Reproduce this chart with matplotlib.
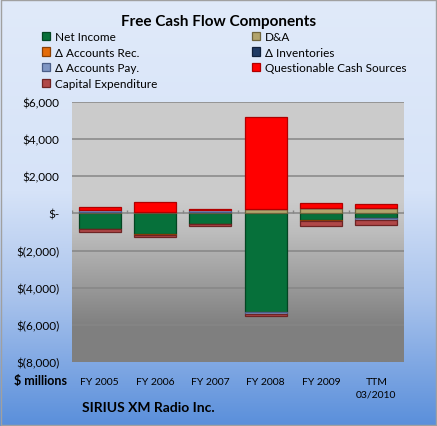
import matplotlib
matplotlib.use('Agg')
import matplotlib.pyplot as plt
import numpy as np
from matplotlib.colors import LinearSegmentedColormap

plt.rcParams['font.family'] = ['Lato', 'DejaVu Sans']

############################### DATA ###############################
years = ['FY 2005', 'FY 2006', 'FY 2007', 'FY 2008', 'FY 2009', 'TTM\n03/2010']
net_income = [-840, -1130, -565, -5310, -340, -235]
d_and_a = [100, 50, 100, 230, 310, 270]
accounts_rec = [-20, -10, -15, -20, -70, -30]
inventories = [0, 0, 0, 0, 0, 0]
accounts_pay = [110, 20, 70, -60, 0, -90]
questionable = [120, 550, 90, 4940, 230, 230]
capex = [-130, -140, -90, -130, -250, -270]

series = [
    ('Net Income', net_income, '#06703A', '#034522'),
    ('D&A', d_and_a, '#B2A46C', '#6E643C'),
    ('\u0394 Accounts Rec.', accounts_rec, '#E46C0A', '#8A4006'),
    ('\u0394 Inventories', inventories, '#1F3A64', '#10203A'),
    ('\u0394 Accounts Pay.', accounts_pay, '#7F96C4', '#4A5E88'),
    ('Questionable Cash Sources', questionable, '#FF0000', '#B00000'),
    ('Capital Expenditure', capex, '#B04848', '#6E2424'),
]
yticks = [6000, 4000, 2000, 0, -2000, -4000, -6000, -8000]
ytick_labels = ['$6,000', '$4,000', '$2,000', '$-', '$(2,000)', '$(4,000)', '$(6,000)', '$(8,000)']

############################### FIGURE #############################
fig = plt.figure(figsize=(4.37, 4.27), dpi=100)

# background gradient for the whole chart
bg = fig.add_axes([0, 0, 1, 1], zorder=-10)
bg_cmap = LinearSegmentedColormap.from_list('bg', [(0.0, '#5A8FDB'), (0.3, '#A9C3EC'),
                                                  (0.55, '#D6E3F8'), (1.0, '#E0EAFA')])
grad = np.linspace(0, 1, 256).reshape(-1, 1)
bg.imshow(grad, aspect='auto', cmap=bg_cmap, origin='lower', extent=[0, 1, 0, 1])
bg.plot([0.002, 0.998, 0.998, 0.002, 0.002], [0.002, 0.002, 0.998, 0.998, 0.002],
        color='#A0A0A0', lw=1)
bg.set_xlim(0, 1)
bg.set_ylim(0, 1)
bg.axis('off')

ax = fig.add_axes([72 / 437, 1 - 363 / 427, 332 / 437, 260 / 427])
x = np.arange(len(years))

# plot area gradient
pa_cmap = LinearSegmentedColormap.from_list('pa', [(0.0, '#7F7F7F'), (0.14, '#808080'),
                                                  (0.5, '#BDBDBD'), (0.62, '#CBCBCB'), (1.0, '#CCCCCC')])
ax.imshow(grad, aspect='auto', cmap=pa_cmap, origin='lower',
          extent=[-0.5, len(years) - 0.5, -8000, 6000], zorder=0)

for yt in yticks[:-1]:
    if yt != 0:
        ax.axhline(yt, color='#868686', lw=1.1, zorder=1)

pos_base = np.zeros(len(years))
neg_base = np.zeros(len(years))
for name, vals, col, edge in series:
    vals = np.array(vals, dtype=float)
    base = np.where(vals >= 0, pos_base, neg_base)
    ax.bar(x, vals, 0.76, bottom=base, color=col, edgecolor=edge, linewidth=0.9,
           label=name, zorder=3)
    pos_base += np.where(vals >= 0, vals, 0)
    neg_base += np.where(vals < 0, vals, 0)

# zero axis line with category ticks
ax.axhline(0, color='#868686', lw=1.1, zorder=2)
ax.vlines(np.arange(len(years) + 1) - 0.5, 0, 170, color='#868686', lw=1, zorder=2)

ax.set_xlim(-0.5, len(years) - 0.5)
ax.set_ylim(-8000, 6000)
ax.set_yticks(yticks)
ax.set_yticklabels(ytick_labels, fontsize=8.5)
ax.set_xticks(x)
ax.set_xticklabels(years, fontsize=7.5, va='top', linespacing=1.4)
ax.tick_params(length=0, pad=11)
ax.tick_params(axis='y', pad=9)
for s in ax.spines.values():
    s.set_visible(False)

fig.text(0.5, 1 - 22 / 427, 'Free Cash Flow Components', ha='center', va='center',
         fontsize=11, fontweight='bold')
fig.text(14 / 437, 1 - 381 / 427, '$ millions', ha='left', va='center',
         fontsize=9, fontweight='bold')
fig.text(82 / 437, 1 - 408 / 427, 'SIRIUS XM Radio Inc.', ha='left', va='center',
         fontsize=10, fontweight='bold')

handles, labels = ax.get_legend_handles_labels()
order = [0, 2, 4, 6, 1, 3, 5]
leg = fig.legend([handles[i] for i in order], [labels[i] for i in order],
                 loc='upper left', bbox_to_anchor=(42 / 437, 1 - 32 / 427), ncol=2,
                 frameon=False, fontsize=8.5, handlelength=0.7, handleheight=0.7,
                 handletextpad=0.4, columnspacing=8.0, labelspacing=0.4,
                 borderaxespad=0, borderpad=0)

fig.savefig('out.png', dpi=100)
